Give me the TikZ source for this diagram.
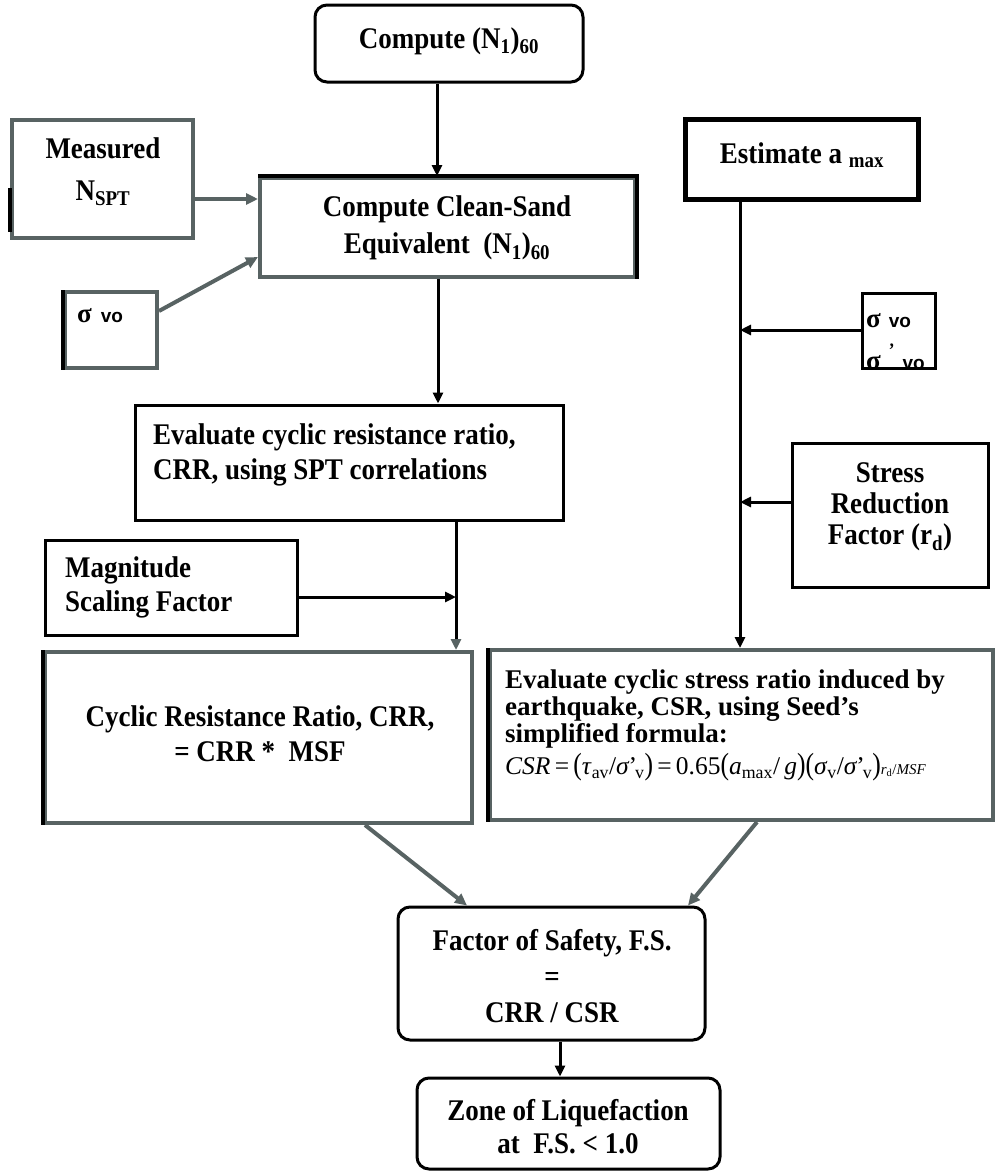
\documentclass[tikz,border=0pt]{standalone}
\usepackage{fontspec}
\usepackage{graphicx}
\setmainfont{Liberation Serif}[FakeStretch=0.9]
\newfontfamily\plainserif{Liberation Serif}[Ligatures=TeX]
\newfontfamily\arialfont{Liberation Sans}
\usetikzlibrary{arrows.meta}
\definecolor{edgegray}{RGB}{88,99,99}
% tall parentheses for the CSR formula
\newcommand\tallp[1]{\scalebox{1}[1.2]{#1}}
\tikzset{
  box/.style={draw=black, line width=3pt, rectangle, inner sep=0pt},
  rbox/.style={box, rounded corners=12pt},
  thickbox/.style={box, line width=5pt},
  gbox/.style={draw=edgegray, line width=4pt, rectangle, inner sep=0pt},
  blackedge/.style={draw=black, line width=3.5pt},
  lbl/.style={inner sep=0pt, align=center, font=\bfseries\fontsize{30}{#1}\selectfont},
  lbl/.default=34,
  lbll/.style={lbl=#1, align=left, anchor=west},
  lbll/.default=34,
  sig/.style={inner sep=0pt, anchor=west, font=\bfseries\fontsize{19}{19}\selectfont},
  arr/.style={draw=black, line width=3pt, -{Triangle[length=11pt,width=10pt]}},
  garr/.style={draw=edgegray, line width=4pt, -{Triangle[length=12pt,width=11pt]}},
}
\newcommand\bigsig{{\plainserif\fontsize{27}{27}\selectfont σ}}
\begin{document}
\begin{tikzpicture}[x=1pt,y=-1pt]
\fill[white] (0,0) rectangle (995,1173);
\useasboundingbox (0,0) rectangle (995,1173);

% ---------- boxes ----------
\node[rbox, minimum width=268pt, minimum height=77pt] (top) at (449,43.5) {};
\node[gbox, minimum width=181pt, minimum height=118pt] (nspt) at (102.5,179) {};
\node[gbox, minimum width=375pt, minimum height=99pt] (clean) at (447.5,227.5) {};
\node[gbox, minimum width=92pt, minimum height=76pt] (sigA) at (111,330) {};
\node[thickbox, minimum width=233pt, minimum height=80pt] (est) at (801.5,159) {};
\node[box, minimum width=73pt, minimum height=75pt] (sigB) at (898.5,330.5) {};
\node[box, minimum width=428pt, minimum height=115pt] (crreval) at (349,462.5) {};
\node[box, minimum width=252pt, minimum height=95pt] (msf) at (171,587.5) {};
\node[box, minimum width=196pt, minimum height=144pt] (stress) at (890,515) {};
\node[gbox, minimum width=427pt, minimum height=171pt] (crrfin) at (258.5,737.5) {};
\node[gbox, minimum width=503pt, minimum height=170pt] (csr) at (741.5,735) {};
\node[rbox, minimum width=307pt, minimum height=133pt] (fs) at (551.5,973.5) {};
\node[rbox, minimum width=303pt, minimum height=91pt] (zone) at (568.5,1123.5) {};

% darker edges on some of the grey boxes
\draw[blackedge] ([yshift=-9pt]nspt.west) -- ([yshift=-53pt]nspt.west);
\draw[blackedge] (clean.north west) -- (clean.north east) -- (clean.south east);
\draw[blackedge] (sigA.north west) -- (sigA.south west);
\draw[blackedge] (crrfin.north west) -- (crrfin.south west);
\draw[blackedge] (csr.north west) -- (csr.south west);

% ---------- texts ----------
\node[lbl] (top-t) at (449,41) {Compute (N\textsubscript{1})\textsubscript{60}};
\node[lbl=42] (nspt-t) at (103,172) {Measured\\N\textsubscript{SPT}};
\node[lbl=37] (clean-t) at (447,228) {Compute Clean-Sand\\Equivalent\ \ (N\textsubscript{1})\textsubscript{60}};
\node[sig] (sigA-t) at (77,316) {\bigsig\hspace{9pt}{\arialfont vo}};
\node[lbl] (est-t) at (802,155) {Estimate a \textsubscript{max}};
\node[sig] (sigB-t1) at (866,321) {\bigsig\hspace{8pt}{\arialfont vo}};
\node[sig] (sigB-t2) at (866,357) {\bigsig\hspace{8pt}\raisebox{13pt}{'}\hspace{8pt}{\arialfont vo}};
\node[lbll=35] (crreval-t) at (153,455) {Evaluate cyclic resistance ratio,\\CRR, using SPT correlations};
\node[lbll=34] (msf-t) at (65,587) {Magnitude\\Scaling Factor};
\node[lbl=31] (stress-t) at (890,507) {Stress\\Reduction\\Factor (r\textsubscript{d})};
\node[lbl=35] (crrfin-t) at (260,734) {Cyclic Resistance Ratio, CRR,\\= CRR *\ \ MSF};
\node[inner sep=0pt, align=left, anchor=west, font=\plainserif\bfseries\fontsize{27}{27}\selectfont] (csr-t) at (505,709)
  {Evaluate cyclic stress ratio induced by\\earthquake, CSR, using Seed’s\\simplified formula:};
\node[inner sep=0pt, anchor=west, font=\plainserif\fontsize{25.5}{27}\selectfont] (csr-f) at (505,767)
  {\textit{CSR}\,=\,\tallp{(}\textit{τ}\textsubscript{av}/\textit{σ}\kern-1pt'\kern-2pt\textsubscript{v}\tallp{)}\,=\,0.65\tallp{(}\textit{a}\textsubscript{max}/\,\textit{g}\tallp{)}\tallp{(}\textit{σ}\textsubscript{v}/\textit{σ}\kern-1pt'\kern-2pt\textsubscript{v}\tallp{)}{\fontsize{15}{15}\selectfont\textit{r}\textsubscript{d}/\textit{MSF}}};
\node[lbl=36] (fs-t) at (552,976) {Factor of Safety, F.S.\\=\\CRR / CSR};
\node[lbl=33] (zone-t) at (568,1127) {Zone of Liquefaction\\at\ \ F.S. < 1.0};

% ---------- connectors ----------
\draw[arr] (top.south -| 437,0) -- (clean.north -| 437,0);
\draw[garr] (nspt.east |- 0,199) -- (clean.west |- 0,199);
\draw[garr] (sigA.east |- 0,311) -- (clean.west |- 0,257);
\draw[arr] (clean.south -| 438,0) -- (crreval.north -| 438,0);
\draw[arr] (est.south -| 740,0) -- (csr.north -| 740,0);
\draw[arr] (sigB.west |- 0,330) -- (740,330);
\draw[arr] (stress.west |- 0,502) -- (740,502);
\draw[draw=black, line width=3pt, -{Triangle[length=11pt,width=10pt,color=edgegray]}]
  (crreval.south -| 456,0) -- (crrfin.north -| 456,0);
\draw[arr] (msf.east |- 0,597) -- (456,597);
\draw[garr] (crrfin.south -| 365,0) -- (fs.north -| 467,0);
\draw[garr] (csr.south -| 757,0) -- (fs.north -| 688,0);
\draw[arr] (fs.south -| 560,0) -- (zone.north -| 560,0);
\end{tikzpicture}
\end{document}
